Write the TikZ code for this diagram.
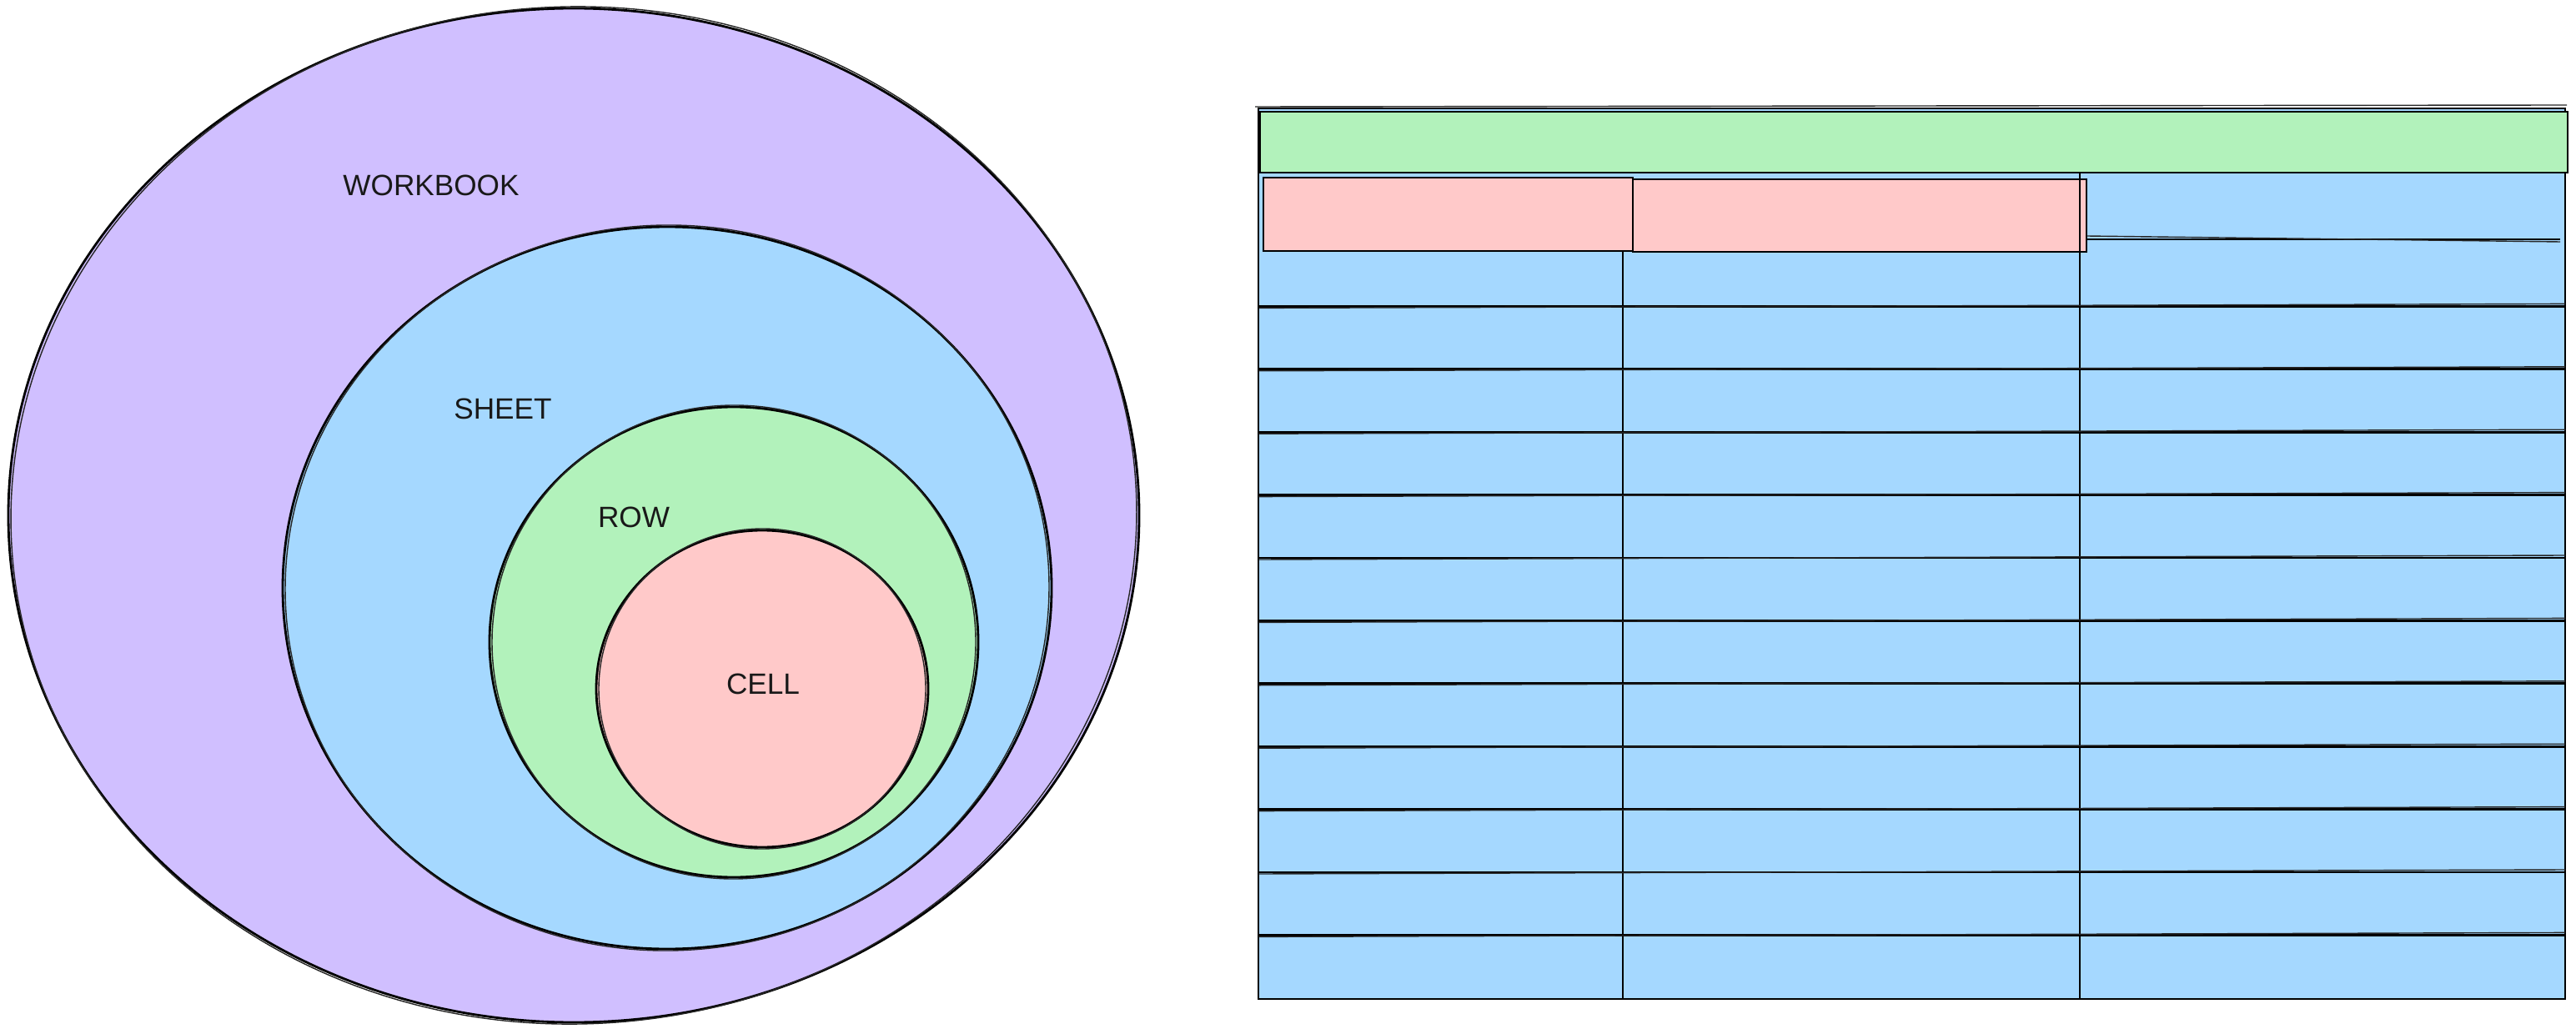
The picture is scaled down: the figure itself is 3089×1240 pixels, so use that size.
\documentclass[tikz,border=0pt]{standalone}
\usepackage{fontspec}
\setmainfont{Liberation Sans}
\definecolor{workbookfill}{HTML}{D0BFFF}
\definecolor{sheetfill}{HTML}{A5D8FF}
\definecolor{rowfill}{HTML}{B2F2BB}
\definecolor{cellfill}{HTML}{FFC9C9}
\tikzset{
  setlabel/.style={font=\fontsize{10}{12}\selectfont, text=black!90},
  rough/.style={line width=0.4pt, black!85}
}

\begin{document}
\begin{tikzpicture}[x=0.01cm, y=-0.01cm, line width=0.8pt]
  \useasboundingbox (0,0) rectangle (3089,1240);
  % nested sets
  \foreach \cx/\cy/\rx/\ry/\col in {688/618/678/608/workbookfill, 800/705/461/433/sheetfill, 880/770/293/282/rowfill, 914/826/199/190/cellfill} {
    \filldraw[fill=\col] (\cx,\cy) ellipse [x radius=\rx, y radius=\ry];
    \draw[rough, rotate around={2:(\cx,\cy)}] (\cx,\cy) ellipse [x radius=\rx-3, y radius=\ry+2];
  }
  \node[setlabel] (workbook) at (517,222) {WORKBOOK};
  \node[setlabel] (sheet) at (603,490) {SHEET};
  \node[setlabel] (row) at (760,620) {ROW};
  \node[setlabel] (cell) at (915,820) {CELL};

  % the sheet as a table
  \filldraw[fill=sheetfill] (1509,130) rectangle (3076,1198);
  \filldraw[fill=rowfill] (1511,134) rectangle (3079,207);
  \filldraw[fill=cellfill] (1515,213) rectangle (1958,301);
  \filldraw[fill=cellfill] (1958,215) rectangle (2502,302);
  \draw (1946,301) -- (1946,1198);
  \draw (2494,207) -- (2494,1198);
  \draw (2502,287) -- (3070,287);
  \draw[rough] (2502,283) -- (3070,290);
  \foreach \k in {1,...,11} {
    \draw (1509,{292+75.4*\k}) -- (3076,{292+75.4*\k});
    \draw[rough] (1509,{294+75.4*\k}) -- (3076,{289+75.4*\k});
  }
  \draw[rough] (1505,128) -- (3078,126);
\end{tikzpicture}
\end{document}
